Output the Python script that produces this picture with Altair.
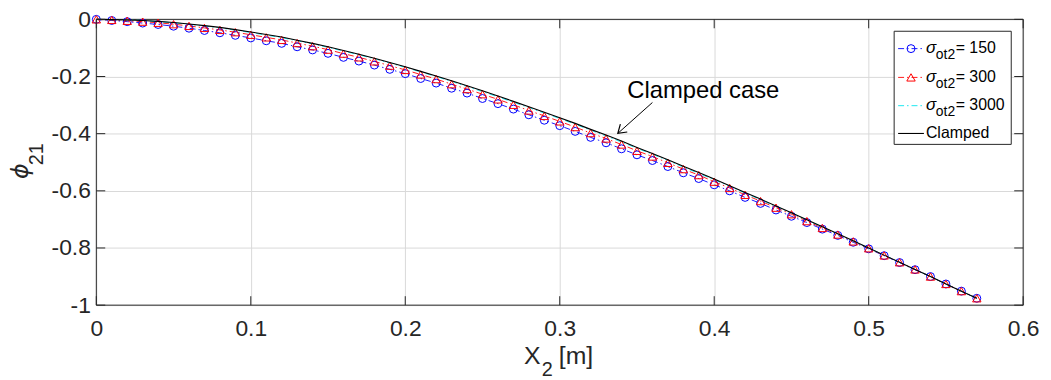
import altair as alt
import pandas as pd

# ---------------- data ----------------
x2 = [0.00, 0.01, 0.02, 0.03, 0.04, 0.05, 0.06, 0.07, 0.08, 0.09,
      0.10, 0.11, 0.12, 0.13, 0.14, 0.15, 0.16, 0.17, 0.18, 0.19,
      0.20, 0.21, 0.22, 0.23, 0.24, 0.25, 0.26, 0.27, 0.28, 0.29,
      0.30, 0.31, 0.32, 0.33, 0.34, 0.35, 0.36, 0.37, 0.38, 0.39,
      0.40, 0.41, 0.42, 0.43, 0.44, 0.45, 0.46, 0.47, 0.48, 0.49,
      0.50, 0.51, 0.52, 0.53, 0.54, 0.55, 0.56, 0.57]

phi_150 = [0.000, -0.004, -0.008, -0.013, -0.018, -0.024, -0.031, -0.039, -0.047, -0.056,
           -0.065, -0.075, -0.084, -0.096, -0.107, -0.119, -0.133, -0.146, -0.160, -0.175,
           -0.190, -0.207, -0.223, -0.241, -0.258, -0.277, -0.295, -0.314, -0.334, -0.353,
           -0.372, -0.392, -0.413, -0.432, -0.453, -0.474, -0.494, -0.515, -0.537, -0.557,
           -0.579, -0.600, -0.623, -0.644, -0.667, -0.689, -0.711, -0.734, -0.756, -0.780,
           -0.803, -0.827, -0.851, -0.876, -0.900, -0.926, -0.951, -0.976]

phi_300 = [0.000, -0.002, -0.005, -0.008, -0.012, -0.017, -0.023, -0.030, -0.037, -0.045,
           -0.054, -0.063, -0.072, -0.083, -0.094, -0.106, -0.120, -0.133, -0.147, -0.162,
           -0.177, -0.193, -0.209, -0.227, -0.244, -0.262, -0.280, -0.299, -0.319, -0.338,
           -0.357, -0.377, -0.398, -0.417, -0.438, -0.460, -0.480, -0.502, -0.524, -0.545,
           -0.568, -0.590, -0.614, -0.636, -0.659, -0.682, -0.706, -0.730, -0.753, -0.777,
           -0.801, -0.826, -0.850, -0.875, -0.900, -0.926, -0.951, -0.976]

phi_3000 = [0.000, -0.001, -0.002, -0.004, -0.008, -0.012, -0.017, -0.023, -0.030, -0.038,
            -0.046, -0.055, -0.064, -0.075, -0.086, -0.098, -0.111, -0.124, -0.138, -0.153,
            -0.168, -0.184, -0.200, -0.217, -0.235, -0.253, -0.271, -0.290, -0.309, -0.328,
            -0.347, -0.367, -0.388, -0.408, -0.429, -0.451, -0.472, -0.494, -0.517, -0.539,
            -0.561, -0.584, -0.608, -0.631, -0.655, -0.678, -0.702, -0.727, -0.751, -0.776,
            -0.800, -0.825, -0.850, -0.875, -0.900, -0.926, -0.951, -0.976]

phi_clamped = [0.000, -0.001, -0.002, -0.004, -0.007, -0.011, -0.016, -0.022, -0.028, -0.036,
               -0.044, -0.053, -0.062, -0.073, -0.084, -0.096, -0.109, -0.122, -0.136, -0.151,
               -0.166, -0.182, -0.198, -0.215, -0.232, -0.250, -0.268, -0.287, -0.306, -0.325,
               -0.344, -0.364, -0.385, -0.405, -0.426, -0.448, -0.469, -0.491, -0.514, -0.536,
               -0.559, -0.582, -0.606, -0.629, -0.653, -0.677, -0.701, -0.726, -0.750, -0.775,
               -0.800, -0.825, -0.850, -0.875, -0.900, -0.926, -0.951, -0.976]

x_ticks = [0, 0.1, 0.2, 0.3, 0.4, 0.5, 0.6]
y_ticks = [-1, -0.8, -0.6, -0.4, -0.2, 0]
legend_values = ["150", "300", "3000"]
legend_last = "Clamped"
annotation_text = "Clamped case"
arrow_tip = (0.3376, -0.399)
arrow_tail = (0.360, -0.291)

# ---------------- chart ----------------
W, H = 934, 288
FONT = "Liberation Sans"
TXT = "#262626"
BLUE, RED, CYAN, BLACK = "#0000ff", "#ff0000", "#00e5ee", "#000000"
DASHDOT = [6, 3, 1.5, 3]

df = pd.DataFrame({"x": x2, "p150": phi_150, "p300": phi_300,
                   "p3000": phi_3000, "pcl": phi_clamped})
one = pd.DataFrame({"d": [0]})

xs = alt.Scale(domain=[0, 0.6], nice=False, zero=False)
ys = alt.Scale(domain=[-1, 0], nice=False, zero=False)

xaxis = alt.Axis(values=x_ticks, title=None, grid=True, gridColor="#d9d9d9",
                 gridWidth=1, ticks=False, tickSize=0, domain=False,
                 labelExpr="datum.value == 0 ? '0' : format(datum.value, '.1f')",
                 labelFont=FONT, labelFontSize=23, labelColor=TXT,
                 labelPadding=13, labelOverlap=False, labelFlush=False)
yaxis = alt.Axis(values=y_ticks, title=None, grid=True, gridColor="#d9d9d9",
                 gridWidth=1, ticks=False, tickSize=0, domain=False,
                 labelExpr="datum.value == 0 ? '0' : (datum.value == -1 ? '-1' : '-' + format(abs(datum.value), '.1f'))",
                 labelFont=FONT, labelFontSize=23, labelColor=TXT,
                 labelPadding=6, labelOverlap=False, labelFlush=False)

X = lambda f: alt.X(f + ":Q", scale=xs, axis=xaxis)
Y = lambda f: alt.Y(f + ":Q", scale=ys, axis=yaxis)

base = alt.Chart(df)

border = alt.Chart(one).mark_rect(fillOpacity=0, stroke=TXT, strokeWidth=1).encode(
    x=alt.value(0), x2=alt.value(W), y=alt.value(0), y2=alt.value(H))

def series_line(field, color, dash=None, width=1.0):
    kw = dict(color=color, strokeWidth=width)
    if dash:
        kw["strokeDash"] = dash
    return base.mark_line(**kw).encode(x=X("x"), y=Y(field))

def series_pts(field, color, shape, size):
    return base.mark_point(shape=shape, filled=False, color=color, size=size,
                           strokeWidth=1, opacity=1).encode(x=X("x"), y=Y(field))

l150 = series_line("p150", BLUE, DASHDOT, 0.9)
m150 = series_pts("p150", BLUE, "circle", 64)
l300 = series_line("p300", RED, DASHDOT, 0.9)
m300 = series_pts("p300", RED, "triangle-up", 72)
l3000 = series_line("p3000", CYAN, DASHDOT, 0.9)
lcl = series_line("pcl", BLACK, None, 1.1)

# inward ticks on all four sides
xt = pd.DataFrame({"x": x_ticks})
yt = pd.DataFrame({"pcl": y_ticks})
tk = dict(color=TXT, strokeWidth=1)
tick_b = alt.Chart(xt).mark_rule(**tk).encode(x=X("x"), y=alt.value(H), y2=alt.value(H - 9))
tick_t = alt.Chart(xt).mark_rule(**tk).encode(x=X("x"), y=alt.value(0), y2=alt.value(9))
tick_l = alt.Chart(yt).mark_rule(**tk).encode(y=Y("pcl"), x=alt.value(0), x2=alt.value(9))
tick_r = alt.Chart(yt).mark_rule(**tk).encode(y=Y("pcl"), x=alt.value(W), x2=alt.value(W - 9))

def txt(text, x, y, size, style="normal", angle=0, font=FONT, color=TXT):
    return alt.Chart(one).mark_text(text=text, fontSize=size, font=font, color=color,
                                    align="left", baseline="alphabetic",
                                    fontStyle=style, angle=angle).encode(
        x=alt.value(x), y=alt.value(y))

# axis titles
xt1 = txt("X", 431, 347, 25)
xt2 = txt("2", 449, 359, 20)
xt3 = txt("[m]", 466, 347, 25)
yt1 = txt("\u03d5", -69, 161, 24, style="italic", angle=270, font="DejaVu Sans")
yt2 = txt("21", -54, 147, 20, angle=270)

# annotation
ann = txt(annotation_text, 535, 79, 24, color="#000000")
arrow_line = alt.Chart(one).mark_rule(color="#000000", strokeWidth=1).encode(
    x=alt.datum(arrow_tail[0], scale=xs, axis=xaxis), y=alt.datum(arrow_tail[1], scale=ys, axis=yaxis),
    x2=alt.datum(arrow_tip[0]), y2=alt.datum(arrow_tip[1]))
arrow_head = alt.Chart(one).mark_point(shape="M -1 -0.65 L 0 0 L -1 0.65", filled=False,
                                       color="#000000", strokeWidth=1.2, size=260,
                                       angle=138.5, opacity=1).encode(
    x=alt.datum(arrow_tip[0], scale=xs, axis=xaxis), y=alt.datum(arrow_tip[1], scale=ys, axis=yaxis))

# legend
leg_box = alt.Chart(one).mark_rect(fill="white", stroke=TXT, strokeWidth=1).encode(
    x=alt.value(804), x2=alt.value(922), y=alt.value(12), y2=alt.value(126))
rows = [29.5, 58.5, 87.0, 115.0]
leg_layers = [leg_box]
styles = [(BLUE, "circle", 64), (RED, "triangle-up", 72), (CYAN, None, 0)]
for i, (val, (col, shp, sz)) in enumerate(zip(legend_values, styles)):
    ly = rows[i]
    leg_layers.append(alt.Chart(one).mark_rule(color=col, strokeWidth=0.9, strokeDash=DASHDOT).encode(
        x=alt.value(808), x2=alt.value(834), y=alt.value(ly)))
    if shp:
        leg_layers.append(alt.Chart(one).mark_point(shape=shp, filled=False, color=col, size=sz,
                                                    strokeWidth=1, opacity=1).encode(
            x=alt.value(821), y=alt.value(ly)))
    leg_layers.append(txt("\u03c3", 836, ly + 4.5, 17, style="italic", color="#000000"))
    leg_layers.append(txt("ot2", 846, ly + 10.5, 14, color="#000000"))
    leg_layers.append(txt("= " + val, 866, ly + 4.5, 16, color="#000000"))
leg_layers.append(alt.Chart(one).mark_rule(color=BLACK, strokeWidth=1.1).encode(
    x=alt.value(808), x2=alt.value(834), y=alt.value(rows[3])))
leg_layers.append(txt(legend_last, 836, rows[3] + 5, 16, color="#000000"))

chart = alt.layer(
    border,
    l150, l300, l3000, m150, m300, lcl,
    tick_b, tick_t, tick_l, tick_r,
    xt1, xt2, xt3, yt1, yt2,
    ann, arrow_line, arrow_head,
    *leg_layers,
).properties(
    width=W, height=H,
    padding={"left": 89, "top": 10, "right": 20, "bottom": 74},
    autosize=alt.AutoSizeParams(type="none"),
    background="white",
).configure_view(stroke=None)

chart.save("out.html", embed_options={"renderer": "svg", "actions": False})
